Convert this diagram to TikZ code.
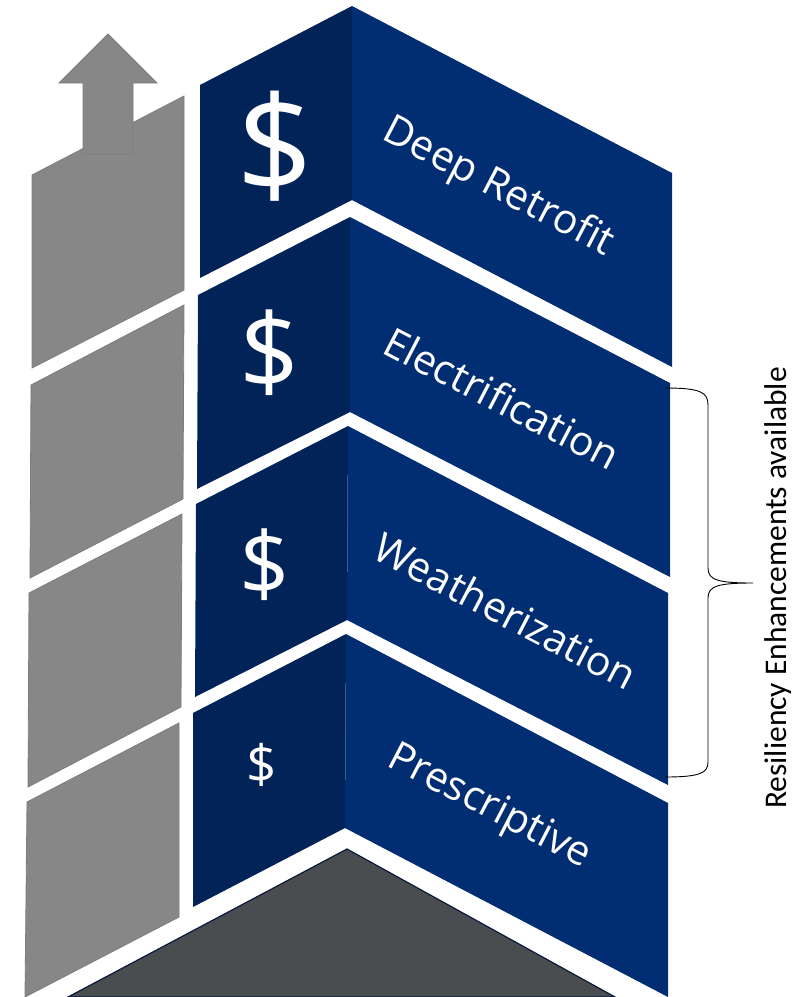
\documentclass[tikz,border=0pt]{standalone}
\usepackage{fontspec}
\newfontfamily\osans{Open Sans}
\newfontfamily\carl{Carlito}
\definecolor{lblue}{RGB}{2,35,88}
\definecolor{rblue}{RGB}{1,46,115}
\definecolor{gpiece}{RGB}{135,135,135}
\definecolor{gedge}{RGB}{125,125,125}
\definecolor{basegray}{RGB}{74,77,80}
\definecolor{baseedge}{RGB}{10,25,60}
\begin{document}
\begin{tikzpicture}[x=1pt,y=-1pt,
  leftface/.style={fill=lblue},
  rightface/.style={fill=rblue},
  graypiece/.style={fill=gpiece,draw=gedge,line width=0.8pt},
  blocklabel/.style={text=white,font=\osans\fontsize{41}{45}\selectfont,rotate=-27.5,inner sep=0pt},
  dollar/.style={text=white,inner sep=0pt},
  bracestyle/.style={draw=black,line width=0.9pt}]
\useasboundingbox (0,0) rectangle (810,997);
% gray column
\path[graypiece] (32,175) -- (184,96) -- (184,290) -- (32,368) -- cycle;
\path[graypiece] (31,385) -- (184,305) -- (183,499) -- (30,578) -- cycle;
\path[graypiece] (29,593) -- (182,514) -- (181,707) -- (28,787) -- cycle;
\path[graypiece] (27,802) -- (179,723) -- (179,917) -- (25,997) -- cycle;
\path[graypiece] (83,154) -- (83,83) -- (59,83) -- (108,34) -- (157,83) -- (133,83) -- (133,154) -- cycle;
% blue blocks
\path[leftface] (200,85) -- (352,6) -- (352,200) -- (200,278) -- cycle;
\path[rightface] (352,6) -- (672,173) -- (672,367) -- (352,200) -- cycle;
\path[leftface] (198,295) -- (350,217) -- (350,412) -- (197,489) -- cycle;
\path[rightface] (350,217) -- (670,383) -- (670,577) -- (350,412) -- cycle;
\path[leftface] (196,504) -- (348,426) -- (347,620) -- (195,697) -- cycle;
\path[rightface] (348,426) -- (668,593) -- (668,785) -- (347,620) -- cycle;
\path[leftface] (193,713) -- (346,634) -- (345,828) -- (193,907) -- cycle;
\path[rightface] (346,634) -- (668,803) -- (668,997) -- (345,828) -- cycle;
% base
\filldraw[fill=basegray,draw=baseedge,line width=1.2pt] (68,997) -- (347,849) -- (615,997) -- cycle;
% dollars
\node[dollar,font=\osans\fontsize{135}{140}\selectfont] (d1) at (275,146) {\$};
\node[dollar,font=\osans\fontsize{105}{110}\selectfont] (d2) at (270,353) {\$};
\node[dollar,font=\osans\fontsize{88}{92}\selectfont] (d3) at (265,565) {\$};
\node[dollar,font=\osans\fontsize{53}{56}\selectfont] (d4) at (262,765) {\$};
% labels
\node[blocklabel] (l1) at (498,188) {Deep Retrofit};
\node[blocklabel] (l2) at (502,398) {Electrification};
\node[blocklabel] (l3) at (506,611) {Weatherization};
\node[blocklabel] (l4) at (489,808) {Prescriptive};
% brace
\coordinate (btop) at (665,388);
\coordinate (bbot) at (665,777);
\coordinate (btip) at (753,583);
\draw[bracestyle] (btop) .. controls (700,388) and (708,392) .. (708,405) -- (708,568)
  .. controls (708,580) and (718,583) .. (btip)
  .. controls (718,583) and (708,586) .. (708,598) -- (708,762)
  .. controls (708,773) and (700,777) .. (bbot);
\node[rotate=90,font=\carl\fontsize{31.5}{34}\selectfont,inner sep=0pt] (res) at (778,588) {Resiliency Enhancements available};
\end{tikzpicture}
\end{document}
